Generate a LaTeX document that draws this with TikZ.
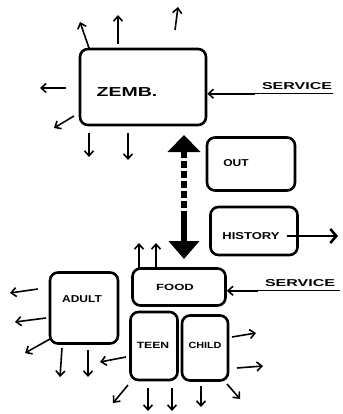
\documentclass[tikz,border=0pt]{standalone}
\usepackage{fontspec}
\usepackage{graphicx}
\setmainfont{Liberation Sans}
\usetikzlibrary{arrows.meta}
\newcommand{\wide}[2]{\scalebox{#1}[1]{#2}}
\tikzset{
  box/.style={draw, line width=2.6pt, rounded corners=8pt, inner sep=0pt},
  lbl/.style={inner sep=0pt},
  arr/.style={line width=1.6pt, -{Straight Barb[length=5pt,width=9pt,line width=1.6pt]}},
  svc/.style={font=\bfseries\fontsize{10}{10}\selectfont, inner sep=1pt},
}
\begin{document}
\begin{tikzpicture}[x=1pt,y=-1pt]
\useasboundingbox (0,0) rectangle (342,414);

% boxes
\node[box, minimum width=126pt, minimum height=76pt] (zemb) at (143,87) {};
\node[box, minimum width=88pt, minimum height=53pt] (out) at (251,164) {};
\node[box, minimum width=87pt, minimum height=48pt] (hist) at (254,231) {};
\node[box, minimum width=93pt, minimum height=37pt] (food) at (179,287) {};
\node[box, minimum width=68pt, minimum height=71pt] (adult) at (84,308) {};
\node[box, minimum width=47pt, minimum height=68pt] (teen) at (154,346) {};
\node[box, minimum width=46pt, minimum height=65pt] (child) at (205,348) {};

% box texts
\node[lbl, font=\bfseries\fontsize{13}{13}\selectfont] (zembt) at (127,92) {\wide{1.5}{ZEMB.}};
\node[lbl, font=\bfseries\fontsize{10}{10}\selectfont] (outt) at (236,163) {\wide{1.2}{OUT}};
\node[lbl, font=\bfseries\fontsize{10}{10}\selectfont] (histt) at (251,236) {\wide{1.3}{HISTORY}};
\node[lbl, font=\bfseries\fontsize{9}{9}\selectfont] (foodt) at (175,287) {\wide{1.45}{FOOD}};
\node[lbl, font=\bfseries\fontsize{10}{10}\selectfont] (adultt) at (82,299) {\wide{1.2}{ADULT}};
\node[lbl, font=\bfseries\fontsize{9}{9}\selectfont] (teent) at (153,345) {\wide{1.35}{TEEN}};
\node[lbl, font=\bfseries\fontsize{9}{9}\selectfont] (childt) at (205,345) {\wide{1.2}{CHILD}};

% service inputs
\node[svc] (svc1) at (297,86) {\wide{1.6}{SERVICE}};
\node[svc] (svc2) at (300,283) {\wide{1.6}{SERVICE}};
\draw[line width=1.2pt] (svc1.south west) ++(-6,3) coordinate (s1a) -- (svc1.south east |- s1a) coordinate (s1b);
\draw[line width=1.2pt] (svc2.south west) ++(-6,3) coordinate (s2a) -- ([xshift=4pt]svc2.south east |- s2a) coordinate (s2b);
\draw[arr] (s1a) -- (zemb.east |- s1a);
\draw[arr] (s2a) -- (food.east |- s2a);

% ZEMB outputs
\coordinate (z1a) at (89,48);  \coordinate (z1b) at (80,22);
\coordinate (z2a) at (118,44); \coordinate (z2b) at (118,15);
\coordinate (z3a) at (175,30); \coordinate (z3b) at (178,7);
\coordinate (z4a) at (66,88);  \coordinate (z4b) at (40,88);
\coordinate (z5a) at (74,116); \coordinate (z5b) at (54,128);
\coordinate (z6a) at (89,133); \coordinate (z6b) at (89,157);
\coordinate (z7a) at (128,133); \coordinate (z7b) at (128,160);
\draw[arr] (z1a) -- (z1b);
\draw[arr] (z2a) -- (z2b);
\draw[arr] (z3a) -- (z3b);
\draw[arr] (z4a) -- (z4b);
\draw[arr] (z5a) -- (z5b);
\draw[arr] (z6a) -- (z6b);
\draw[arr] (z7a) -- (z7b);

% two-way link between ZEMB and FOOD
\coordinate (lk1) at (184,135);
\coordinate (lk2) at (184,218);
\coordinate (lk3) at (184,259);
\draw[line width=6pt, dash pattern=on 7pt off 3pt,
      {Triangle[length=17pt,width=32pt]}-] (lk1) -- (lk2);
\draw[line width=6pt, -{Triangle[length=18pt,width=30pt]}] (lk2) -- (lk3);

% HISTORY output
\coordinate (h1b) at (338,236);
\draw[line width=1.6pt, -{Straight Barb[length=6pt,width=14pt,line width=2.6pt]}] ([xshift=-12pt]hist.east |- histt) -- (h1b);

% FOOD outputs
\coordinate (f1a) at (139,270); \coordinate (f1b) at (139,243);
\coordinate (f2a) at (156,270); \coordinate (f2b) at (156,243);
\draw[arr] (f1a) -- (f1b);
\draw[arr] (f2a) -- (f2b);

% ADULT outputs
\coordinate (a1a) at (38,289);  \coordinate (a1b) at (10,293);
\coordinate (a2a) at (46,318);  \coordinate (a2b) at (15,322);
\coordinate (a3a) at (50,339);  \coordinate (a3b) at (25,353);
\coordinate (a4a) at (62,348);  \coordinate (a4b) at (60,377);
\coordinate (a5a) at (88,350);  \coordinate (a5b) at (88,377);
\draw[arr] (a1a) -- (a1b);
\draw[arr] (a2a) -- (a2b);
\draw[arr] (a3a) -- (a3b);
\draw[arr] (a4a) -- (a4b);
\draw[arr] (a5a) -- (a5b);

% TEEN and CHILD outputs
\coordinate (t1a) at (126,357); \coordinate (t1b) at (100,362);
\coordinate (t2a) at (128,385); \coordinate (t2b) at (113,403);
\coordinate (t3a) at (148,388); \coordinate (t3b) at (148,411);
\coordinate (t4a) at (172,388); \coordinate (t4b) at (172,411);
\coordinate (c1a) at (232,337); \coordinate (c1b) at (256,333);
\coordinate (c2a) at (237,368); \coordinate (c2b) at (263,366);
\coordinate (c3a) at (201,386); \coordinate (c3b) at (201,407);
\coordinate (c4a) at (227,384); \coordinate (c4b) at (240,399);
\draw[arr] (t1a) -- (t1b);
\draw[arr] (t2a) -- (t2b);
\draw[arr] (t3a) -- (t3b);
\draw[arr] (t4a) -- (t4b);
\draw[arr] (c1a) -- (c1b);
\draw[arr] (c2a) -- (c2b);
\draw[arr] (c3a) -- (c3b);
\draw[arr] (c4a) -- (c4b);
\end{tikzpicture}
\end{document}
